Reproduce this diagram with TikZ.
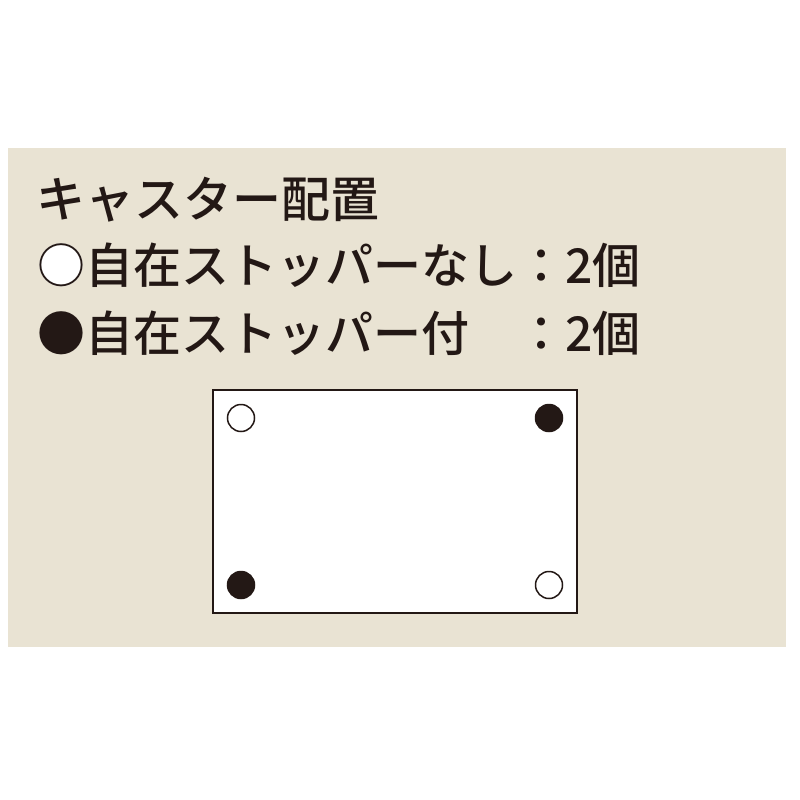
\documentclass[tikz,border=0pt]{standalone}
\usepackage{fontspec}
\newfontfamily\jpfont{Noto Sans CJK JP Medium}
\definecolor{ink}{HTML}{231815}
\definecolor{panel}{HTML}{E9E3D3}
\newcommand\openmark{\rlap{\textcolor{white}{●}}○}
\tikzset{
  label line/.style={anchor=west, inner sep=0pt, text=ink, font=\jpfont\fontsize{48}{48}\selectfont},
  free caster/.style={draw=ink, circle, line width=1.5pt, fill=white, minimum size=27pt, inner sep=0pt},
  stop caster/.style={free caster, fill=ink},
}
\begin{document}
\begin{tikzpicture}[x=1pt,y=-1pt]
\useasboundingbox (0,0) rectangle (800,800);
\fill[panel] (8,148) rectangle (786,647);
% legend
\node[label line, font=\jpfont\fontsize{49}{49}\selectfont] (title) at (36,200) {キャスター配置};
\node[label line] (free) at (37,265) {\openmark 自在ストッパーなし：2個};
\node[label line] (stop) at (37,333) {●自在ストッパー付　：2個};
% plate seen from below
\node[draw=ink, line width=2pt, fill=white, minimum width=364pt, minimum height=223pt, inner sep=0pt] (plate) at (395,501.5) {};
\node[free caster] (c1) at (241,418) {};
\node[stop caster] (c2) at (549,418) {};
\node[stop caster] (c3) at (241,585) {};
\node[free caster] (c4) at (549,585) {};
\end{tikzpicture}
\end{document}
